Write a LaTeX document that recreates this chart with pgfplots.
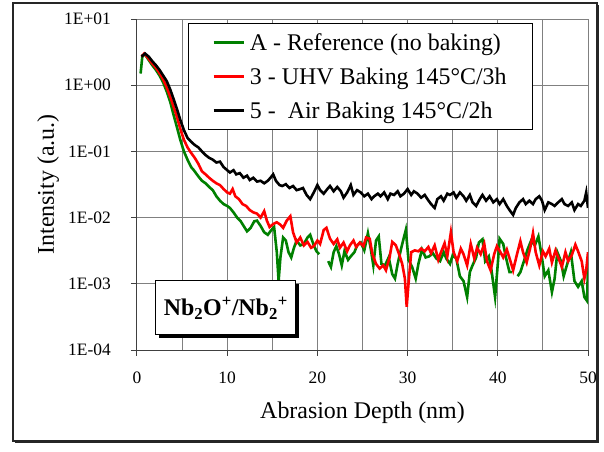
\documentclass[border=0pt]{standalone}
\usepackage{fontspec}
\setmainfont{Liberation Serif}
\usepackage{pgfplots}
\pgfplotsset{compat=1.18}
\usepackage{pgfplotstable}
\usetikzlibrary{shadows}

\definecolor{serA}{RGB}{0,128,0}
\definecolor{serB}{RGB}{255,0,0}
\definecolor{gridgray}{RGB}{128,128,128}

% Reference sample (no baking)
\pgfplotstableread{
x y
0.4 1.5
0.6 2.8
0.9 2.9
1.3 2.4
1.7 2.0
2.1 1.7
2.5 1.4
2.9 1.1
3.3 0.80
3.7 0.55
4.0 0.38
4.4 0.24
4.8 0.15
5.2 0.10
5.6 0.075
6.0 0.058
6.3 0.052
6.8 0.042
7.2 0.036
7.6 0.033
8.0 0.029
8.4 0.026
8.8 0.021
9.2 0.018
9.6 0.016
10.0 0.015
10.3 0.014
10.7 0.012
11.1 0.010
11.5 0.0088
11.9 0.0072
12.2 0.0062
12.6 0.0070
13.0 0.0088
13.3 0.0090
13.7 0.0075
14.1 0.0060
14.5 0.0055
14.9 0.0065
15.2 0.0072
15.5 0.0030
15.7 0.0011
15.9 0.0025
16.2 0.0050
16.5 0.0045
16.8 0.0030
17.1 0.0025
17.4 0.0035
17.7 0.0045
18.1 0.0038
18.5 0.0040
18.9 0.0050
19.2 0.0055
19.6 0.0038
19.9 0.0031
20.2 0.0028
20.6 nan
21.2 0.0022
21.5 0.0018
21.8 0.0030
22.1 0.0037
22.4 0.0028
22.7 0.0019
23.0 0.0031
23.4 0.0023
23.7 0.0026
24.1 0.0030
24.4 0.0038
24.8 0.0042
25.2 0.0032
25.6 0.0058
25.9 0.0035
26.2 0.0019
26.5 0.0045
26.8 0.0052
27.1 0.0020
27.5 0.0019
27.9 0.0025
28.3 0.0014
28.6 0.0012
28.9 0.0020
29.3 0.0035
29.8 0.0065
30.1 0.0023
30.5 0.0018
30.9 0.0012
31.2 0.0020
31.6 0.0033
32.0 0.0025
32.4 0.0026
32.8 0.0029
33.2 0.0024
33.6 0.0022
34.0 0.0030
34.3 0.0024
34.7 0.0020
35.0 0.0027
35.4 0.0024
35.8 0.0013
36.2 0.0011
36.6 0.00063
36.9 0.0015
37.2 0.0019
37.6 0.0025
37.9 0.0042
38.3 0.0047
38.6 0.0022
39.0 0.0026
39.3 0.0016
39.7 0.00063
40.0 0.0020
40.2 0.0048
40.6 0.0040
40.9 0.0025
41.3 0.0015
41.6 0.0015
41.9 nan
42.2 0.0013
42.5 0.0015
42.9 0.0022
43.3 0.0033
43.7 0.0045
44.1 0.0038
44.5 0.0052
44.8 0.0030
45.2 0.0013
45.6 0.0016
46.0 0.00075
46.3 0.0012
46.6 0.0030
47.0 0.0022
47.3 0.0013
47.7 0.0020
48.1 0.0030
48.5 0.0011
48.9 0.0009
49.3 0.0011
49.6 0.00063
49.9 0.00055
50.0 0.0021
}\tabA

% UHV baking 145 C / 3 h
\pgfplotstableread{
x y
0.5 2.7
0.8 3.0
1.2 2.6
1.6 2.2
2.0 1.9
2.4 1.6
2.8 1.3
3.2 1.0
3.6 0.72
4.0 0.50
4.4 0.34
4.8 0.22
5.2 0.15
5.6 0.115
6.0 0.095
6.4 0.080
6.8 0.065
7.2 0.050
7.6 0.045
8.0 0.040
8.4 0.036
8.8 0.033
9.2 0.031
9.6 0.027
10.0 0.024
10.3 0.023
10.6 0.027
10.9 0.021
11.3 0.019
11.7 0.016
12.1 0.015
12.5 0.013
12.9 0.012
13.3 0.0115
13.7 0.010
14.1 0.0125
14.4 0.009
14.7 0.0072
15.1 0.0080
15.5 0.0085
15.9 0.0078
16.2 0.0070
16.6 0.0090
17.0 0.0105
17.3 0.0060
17.7 0.0042
18.1 0.0050
18.5 0.0038
18.9 0.0043
19.3 0.0035
19.6 0.0037
20.0 0.0045
20.3 0.0040
20.7 0.0065
21.0 0.0070
21.4 0.0048
21.8 0.0040
22.2 0.0047
22.5 0.0035
22.9 0.0042
23.3 0.0031
23.6 0.0038
24.0 0.0045
24.3 0.0036
24.7 0.0042
25.1 0.0037
25.4 0.0050
25.8 0.0048
26.1 0.0028
26.5 0.0020
26.9 0.0017
27.3 0.0019
27.6 0.0016
28.0 0.0025
28.3 0.0043
28.7 0.0038
29.1 0.0027
29.4 0.0020
29.7 0.0012
29.9 0.00045
30.1 0.0010
30.4 0.0030
30.8 0.0032
31.2 0.0031
31.5 0.0034
31.9 0.0031
32.3 0.0036
32.6 0.0029
33.0 0.0038
33.4 0.0023
33.7 0.0030
34.1 0.0041
34.4 0.0026
34.8 0.0060
35.1 0.0030
35.5 0.0022
35.9 0.0034
36.2 0.0028
36.6 0.0019
37.0 0.0040
37.4 0.0024
37.7 0.0035
38.1 0.0028
38.5 0.0040
38.8 0.0022
39.2 0.0016
39.6 0.0028
39.9 0.0037
40.3 0.0030
40.6 0.0025
41.0 0.0033
41.4 0.0022
41.7 0.0016
42.1 0.0027
42.5 0.0044
42.8 0.0030
43.2 0.0021
43.6 0.0035
43.9 0.0058
44.2 0.0030
44.6 0.0019
45.0 0.0031
45.3 0.0026
45.7 0.0034
46.0 0.0021
46.4 0.0032
46.7 0.0025
47.1 0.0018
47.5 0.0030
47.8 0.0022
48.2 0.0027
48.6 0.0039
48.9 0.0031
49.3 0.0022
49.6 0.0012
49.8 0.0016
50.0 0.0030
}\tabB

% Air baking 145 C / 2 h
\pgfplotstableread{
x y
0.5 2.7
0.9 3.0
1.3 2.7
1.7 2.3
2.1 2.0
2.5 1.7
2.9 1.4
3.3 1.15
3.7 0.85
4.0 0.65
4.4 0.45
4.8 0.30
5.2 0.21
5.6 0.16
6.0 0.14
6.4 0.125
6.8 0.115
7.2 0.10
7.6 0.088
8.0 0.080
8.4 0.075
8.8 0.068
9.2 0.070
9.6 0.058
10.0 0.052
10.3 0.048
10.7 0.052
11.0 0.045
11.4 0.047
11.8 0.040
12.2 0.043
12.5 0.037
12.9 0.040
13.3 0.035
13.7 0.036
14.1 0.033
14.5 0.036
14.8 0.040
15.1 0.045
15.4 0.036
15.8 0.031
16.1 0.030
16.5 0.032
16.9 0.028
17.3 0.030
17.7 0.026
18.1 0.027
18.4 0.028
18.8 0.022
19.2 0.019
19.6 0.024
20.0 0.031
20.3 0.026
20.7 0.023
21.1 0.027
21.4 0.030
21.8 0.025
22.2 0.029
22.6 0.025
22.9 0.020
23.3 0.024
23.7 0.031
24.0 0.022
24.4 0.026
24.8 0.024
25.2 0.021
25.6 0.023
26.0 0.019
26.3 0.021
26.7 0.023
27.0 0.021
27.4 0.024
27.8 0.019
28.1 0.023
28.5 0.022
28.9 0.025
29.2 0.021
29.6 0.023
30.0 0.027
30.4 0.022
30.7 0.025
31.1 0.023
31.5 0.020
31.9 0.022
32.2 0.019
32.6 0.016
33.0 0.014
33.3 0.019
33.7 0.021
34.0 0.018
34.4 0.023
34.7 0.022
35.1 0.024
35.4 0.020
35.8 0.024
36.2 0.021
36.5 0.018
36.9 0.022
37.2 0.017
37.6 0.015
38.0 0.019
38.3 0.022
38.7 0.018
39.1 0.021
39.5 0.017
39.9 0.019
40.2 0.016
40.6 0.019
41.0 0.015
41.3 0.013
41.7 0.011
42.0 0.014
42.4 0.017
42.8 0.019
43.1 0.016
43.5 0.018
43.9 0.016
44.2 0.019
44.6 0.021
44.9 0.018
45.2 0.013
45.6 0.017
46.0 0.016
46.3 0.015
46.7 0.017
47.1 0.019
47.4 0.016
47.8 0.015
48.2 0.017
48.5 0.013
48.9 0.016
49.2 0.015
49.6 0.018
49.8 0.024
50.0 0.014
}\tabC

\begin{document}
\begin{tikzpicture}
\useasboundingbox (-137bp,-102bp) rectangle (467bp,350bp);
\begin{axis}[
  scale only axis, width=451bp, height=331bp,
  xmin=0, xmax=50, ymode=log, ymin=1e-4, ymax=10,
  xtick={0,10,...,50}, minor xtick={5,15,...,45},
  ytick={1e-4,1e-3,1e-2,1e-1,1,10},
  yticklabels={1E-04,1E-03,1E-02,1E-01,1E+00,1E+01},
  yminorticks=false,
  xmajorgrids, xminorgrids, ymajorgrids, yminorgrids=false,
  major grid style={gridgray, line width=1bp},
  minor grid style={gridgray, line width=1bp},
  axis x line*=bottom, axis y line*=left,
  axis line style={black!75, line width=1bp, -},
  tick align=outside, major tick length=6bp, minor tick length=0pt,
  tick style={black!75, line width=1bp},
  ticklabel style={font=\fontsize{17.5}{20}\selectfont},
  /pgf/number format/assume math mode=true,
  xticklabel style={inner sep=0pt, anchor=north, yshift=-16bp},
  yticklabel style={inner sep=0pt, anchor=east, xshift=-20bp},
  xlabel={Abrasion Depth (nm)}, ylabel={Intensity (a.u.)},
  every axis x label/.style={at={(axis description cs:0.5,-0.19)}, anchor=center,
    font=\fontsize{24}{28}\selectfont},
  every axis y label/.style={at={(axis description cs:-0.197,0.5)}, anchor=center,
    rotate=90, font=\fontsize{24}{28}\selectfont},
  unbounded coords=jump,
  legend cell align=left,
  legend style={at={(0.113,0.988)}, anchor=north west, draw=black, line width=0.8bp,
    fill=white, font=\fontsize{24}{27}\selectfont, inner xsep=24bp, inner ysep=8bp,
    row sep=12bp, column sep=3bp},
  legend image code/.code={\draw[line width=2.6bp] (0bp,0bp) -- (30bp,0bp);},
]
\addplot[serA, line width=2.6bp] table {\tabA};
\addlegendentry{A - Reference (no baking)}
\addplot[serB, line width=2.6bp] table {\tabB};
\addlegendentry{3 - UHV Baking 145°C/3h}
\addplot[black, line width=2.6bp] table {\tabC};
\addlegendentry{5 - \ Air Baking 145°C/2h}

\node[draw=black, line width=1bp, fill=white,
  drop shadow={shadow xshift=3bp, shadow yshift=-3bp, fill=black, opacity=1},
  minimum width=140bp, minimum height=54bp,
  font=\fontsize{24}{28}\selectfont\bfseries]
  at (rel axis cs:0.197,0.127)
  {Nb\textsubscript{2}O\textsuperscript{+}/Nb\textsubscript{2}\textsuperscript{+}};
\end{axis}
% outer chart frame with a slight shadow on the lower and right edges
\draw[black!85, line width=1.2bp] (-124bp,-91bp) rectangle (460bp,347bp);
\draw[black!85, line width=1.6bp] (-122bp,-92.5bp) -- (461.5bp,-92.5bp) -- (461.5bp,345bp);
\end{tikzpicture}
\end{document}
